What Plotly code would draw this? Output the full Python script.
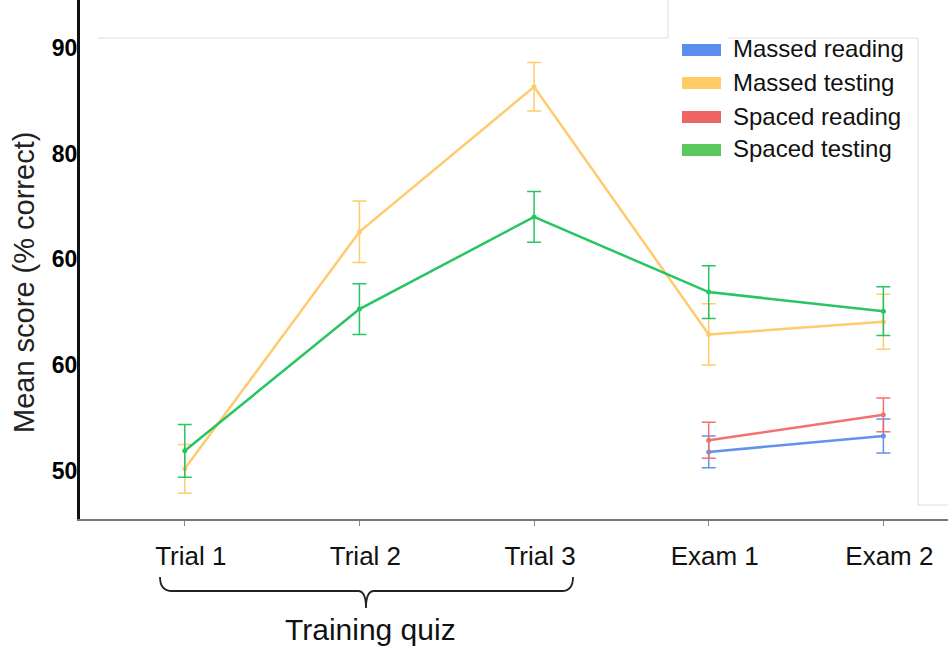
import plotly.graph_objects as go

# ---- data ----
categories = ["Trial 1", "Trial 2", "Trial 3", "Exam 1", "Exam 2"]
series_names = ["Massed reading", "Massed testing", "Spaced reading", "Spaced testing"]
massed_reading = [None, None, None, 51.8, 53.3]
massed_reading_err = [None, None, None, 1.5, 1.6]
massed_testing = [50.2, 72.6, 86.3, 62.9, 64.1]
massed_testing_err = [2.3, 2.9, 2.3, 2.9, 2.6]
spaced_reading = [None, None, None, 52.9, 55.3]
spaced_reading_err = [None, None, None, 1.7, 1.6]
spaced_testing = [51.9, 65.3, 74.0, 66.9, 65.1]
spaced_testing_err = [2.5, 2.4, 2.4, 2.5, 2.3]
y_tickvals = [50, 60, 70, 80, 90]
y_ticktext = ["50", "60", "60", "80", "90"]
y_title = "Mean score (% correct)"
x_group_label = "Training quiz"

line_colors = ["#5B8DEF", "#FFC966", "#F26B6B", "#1CC35A"]
swatch_colors = ["#5B8DEF", "#FFCC66", "#EE6363", "#5BC85E"]

FONT = "Liberation Sans, Arial, sans-serif"
W, H = 948, 649
ML, MR, MT, MB = 80, 0, 0, 130
PW, PH = W - ML - MR, H - MT - MB


def px(x):
    return (x - ML) / PW


def py(y):
    return (H - MB - y) / PH


fig = go.Figure()
series = [
    (massed_reading, massed_reading_err),
    (massed_testing, massed_testing_err),
    (spaced_reading, spaced_reading_err),
    (spaced_testing, spaced_testing_err),
]
for i in [0, 2, 1, 3]:
    vals, errs = series[i]
    xs = [c for c, v in zip(categories, vals) if v is not None]
    ys = [v for v in vals if v is not None]
    es = [e for v, e in zip(vals, errs) if v is not None]
    fig.add_trace(go.Scatter(
        x=xs, y=ys, name=series_names[i], mode="lines+markers",
        line=dict(color=line_colors[i], width=2.5),
        marker=dict(color=line_colors[i], size=5),
        error_y=dict(type="data", array=es, visible=True, color=line_colors[i],
                     thickness=1.5, width=7),
        opacity=0.95, showlegend=False, hoverinfo="skip",
    ))

# manual legend (colored rectangles + labels)
legend_rows = [50, 83, 117, 150]
for name, col, yy in zip(series_names, swatch_colors, legend_rows):
    fig.add_shape(type="rect", xref="paper", yref="paper",
                  x0=px(682), x1=px(721), y0=py(yy - 6), y1=py(yy + 6),
                  fillcolor=col, line=dict(width=0), layer="above")
    fig.add_annotation(x=px(731), y=py(yy - 1), xref="paper", yref="paper",
                       text=name, showarrow=False, xanchor="left", yanchor="middle",
                       font=dict(family=FONT, size=24, color="#111"))

# faint frame lines (image artefacts)
faint = dict(color="#DDDDDD", width=1)
fig.add_shape(type="line", xref="paper", yref="paper", x0=px(98), x1=px(668), y0=py(38), y1=py(38), line=faint)
fig.add_shape(type="line", xref="paper", yref="paper", x0=px(668), x1=px(668), y0=py(0), y1=py(38), line=faint)
fig.add_shape(type="line", xref="paper", yref="paper", x0=px(918), x1=px(918), y0=py(38), y1=py(505), line=faint)
fig.add_shape(type="line", xref="paper", yref="paper", x0=px(728), x1=px(918), y0=py(38), y1=py(38), line=faint)
fig.add_shape(type="line", xref="paper", yref="paper", x0=px(918), x1=px(948), y0=py(505), y1=py(505), line=faint)

# brace under Training quiz
brace = (f"M {px(160)},{py(577)} Q {px(160)},{py(591)} {px(172)},{py(591)} "
         f"L {px(358)},{py(591)} Q {px(366)},{py(591)} {px(366)},{py(608)} "
         f"Q {px(366)},{py(591)} {px(374)},{py(591)} "
         f"L {px(562)},{py(591)} Q {px(573)},{py(591)} {px(573)},{py(577)}")
fig.add_shape(type="path", xref="paper", yref="paper", path=brace,
              line=dict(color="#222", width=1.8))
fig.add_annotation(x=px(370), y=py(648), xref="paper", yref="paper",
                   text=x_group_label, showarrow=False, yanchor="bottom",
                   font=dict(family=FONT, size=30, color="#111"))

# y-axis title as rotated annotation
fig.add_annotation(x=px(24), y=py(283), xref="paper", yref="paper",
                   text=y_title, showarrow=False, textangle=-90,
                   xanchor="center", yanchor="middle",
                   font=dict(family=FONT, size=29, color="#222"))

fig.update_layout(
    width=W, height=H,
    margin=dict(l=ML, r=MR, t=MT, b=MB, pad=0),
    paper_bgcolor="white", plot_bgcolor="white",
    xaxis=dict(
        type="category", categoryorder="array", categoryarray=categories,
        range=[-0.6, 4.37], showgrid=False, zeroline=False,
        showline=True, linecolor="#777777", linewidth=2,
        ticks="outside", ticklen=5, tickcolor="#888888", tickwidth=1,
        tickfont=dict(family=FONT, size=26, color="#111"),
        ticklabelstandoff=8, ticklabelshift=6,
    ),
    yaxis=dict(
        range=[45.46, 94.5], tickvals=y_tickvals, ticktext=y_ticktext,
        showgrid=False, zeroline=False,
        showline=True, linecolor="#111111", linewidth=3,
        ticks="", tickfont=dict(family=FONT, size=23, color="#000", weight="bold"),
        ticklabelstandoff=-5,
    ),
)

fig.write_html("out.html", config={"displayModeBar": False},
               post_script="document.body.style.margin='0';")
